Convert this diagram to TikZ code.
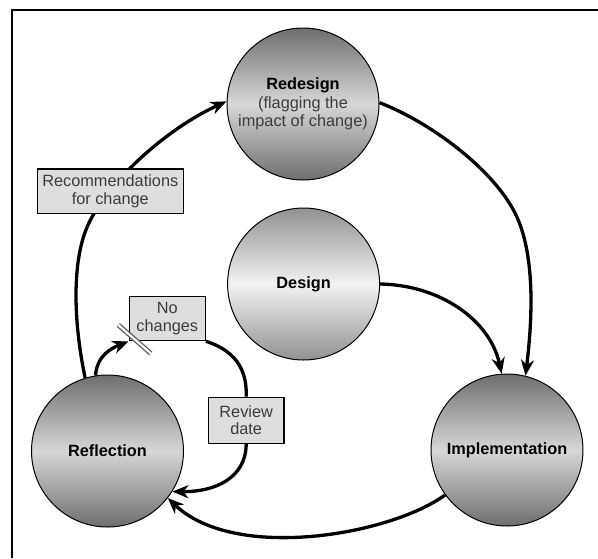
\documentclass[tikz,border=0pt]{standalone}
\usepackage{fontspec}
\setmainfont{Liberation Sans}
\usetikzlibrary{arrows.meta}
\pgfdeclarelayer{bg}
\pgfsetlayers{bg,main}
\definecolor{cdark}{RGB}{110,110,110}
\definecolor{clight}{RGB}{215,215,215}
\definecolor{ddark}{RGB}{145,145,145}
\definecolor{dlight}{RGB}{242,242,242}
\definecolor{boxfill}{RGB}{222,222,222}
\definecolor{txtgray}{RGB}{60,60,60}
\begin{document}
\begin{tikzpicture}[x=1pt,y=-1pt,
  ball/.style={circle,draw=black,line width=1pt,minimum size=152pt,inner sep=0pt,align=center,
    top color=cdark,bottom color=cdark,middle color=clight,font=\fontsize{16.3}{18.5}\selectfont},
  lightball/.style={ball,top color=ddark,bottom color=ddark,middle color=dlight},
  lbox/.style={rectangle,draw=black,line width=1.2pt,fill=boxfill,inner sep=0pt,align=center,
    text=txtgray,font=\fontsize{16.3}{17.5}\selectfont},
  arr/.style={line width=3.3pt,-{Stealth[length=16pt,width=13pt,inset=5pt]}},
  plainline/.style={line width=3.3pt},
  barline/.style={line width=1.3pt,draw=gray!70!black,double=white,double distance=2.2pt}]
\useasboundingbox (0,0) rectangle (598,558);
\draw[line width=2pt] (12,558) -- (12,10) -- (598,10);

\node[ball] (redes) at (303,104) {\textbf{Redesign}\\{\color{txtgray}(flagging the}\\{\color{txtgray}impact of change)}};
\node[lightball] (design) at (303.6,284) {\textbf{Design}};
\node[ball] (refl) at (107.5,451) {\textbf{Reflection}};
\node[ball] (impl) at (507,450) {\textbf{Implementation}};

\node[lbox,minimum width=146pt,minimum height=44.3pt] (recom) at (110.3,191.2) {Recommendations\\for change};
\node[lbox,minimum width=76pt,minimum height=44pt] (nochg) at (167.3,318.7) {No\\changes};
\node[lbox,minimum width=75.7pt,minimum height=46pt] (review) at (246.2,420.3) {Review\\date};

\begin{pgfonlayer}{bg}
\draw[arr] (refl.107) .. controls (73,320) and (72,260) .. (88,225)
  .. controls (107,183) and (165,129.5) .. (redes.178);
\draw[arr] (redes.1) .. controls (430,122) and (492.5,168.5) .. (515,213)
  .. controls (537.5,257.5) and (531,330) .. (impl.76);
\draw[arr] (design.0) .. controls (440,285) and (490,320) .. (impl.94);
\draw[arr] (impl.216) .. controls (390,535) and (235,562) .. (refl.-38);
\draw[arr] (refl.99) .. controls (97,355) and (112,348) .. (nochg.south west);
\draw[plainline] (nochg.south east) .. controls (240,352) and (247,375) .. (review.north);
\draw[arr] (review.south) .. controls (246,478) and (215,492) .. (refl.-32);
\end{pgfonlayer}

\draw[barline] (118.3,325) -- (150.7,353.3);
\end{tikzpicture}
\end{document}
